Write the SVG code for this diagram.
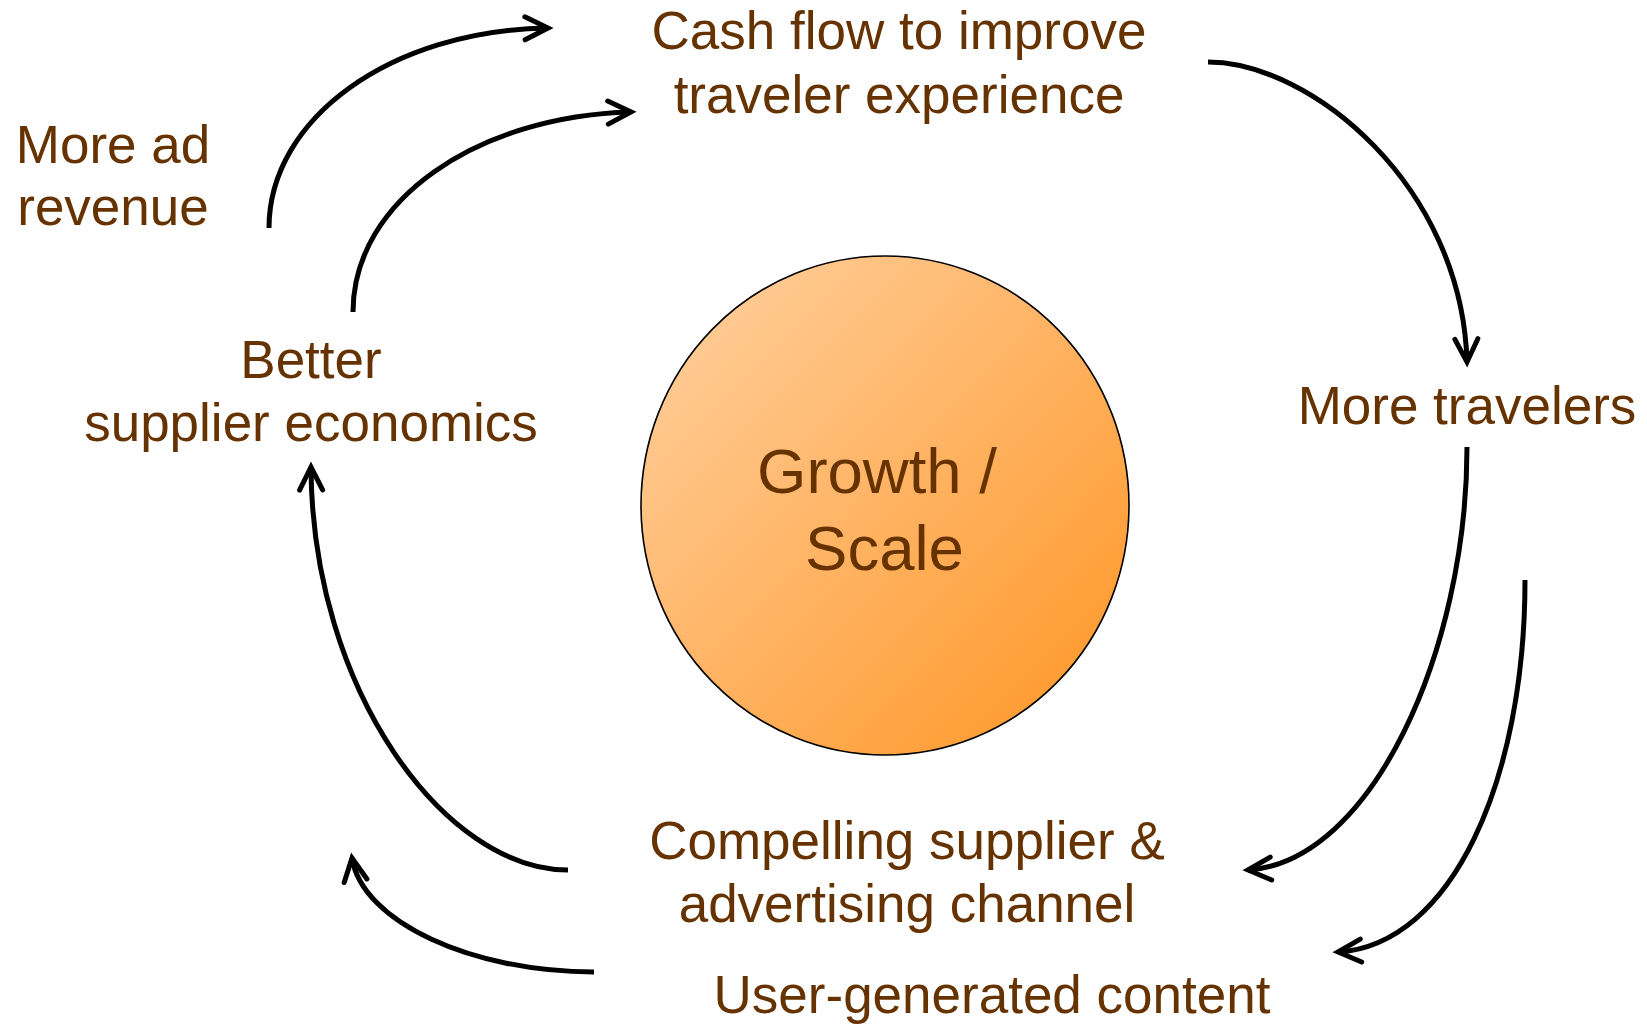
<svg xmlns="http://www.w3.org/2000/svg" width="1647" height="1024" viewBox="0 0 1647 1024">
  <style>
    .lbl { font-family: "Liberation Sans", Arial, sans-serif; font-size: 53px; fill: #663300; text-anchor: middle; }
    .hub { font-family: "Liberation Sans", Arial, sans-serif; font-size: 63.5px; fill: #663300; text-anchor: middle; }
    .flow { fill: none; stroke: #000; stroke-width: 5; marker-end: url(#chevron); }
  </style>
  <defs>
    <linearGradient id="hubFill" x1="0" y1="0" x2="1" y2="1">
      <stop offset="0" stop-color="#FFD2A3"/>
      <stop offset="1" stop-color="#FF9422"/>
    </linearGradient>
    <marker id="chevron" markerUnits="userSpaceOnUse" orient="auto" refX="0" refY="0" markerWidth="30" markerHeight="30" overflow="visible">
      <path d="M-23,-11.5 L0,0 L-23,11.5" fill="none" stroke="#000" stroke-width="5" stroke-linecap="round" stroke-linejoin="miter"/>
    </marker>
  </defs>

  <!-- central hub -->
  <g id="hub">
    <ellipse cx="885" cy="505.5" rx="244" ry="249.5" fill="url(#hubFill)" stroke="#000" stroke-width="1.6"/>
    <text class="hub" x="877" y="493">Growth /</text>
    <text class="hub" x="884.5" y="569.5">Scale</text>
  </g>

  <g id="cash-flow">
    <text class="lbl" x="899" y="49">Cash flow to improve</text>
    <text class="lbl" x="899" y="113">traveler experience</text>
  </g>

  <g id="more-travelers">
    <text class="lbl" x="1467" y="424">More travelers</text>
  </g>

  <g id="compelling-channel">
    <text class="lbl" x="907" y="859">Compelling supplier &amp;</text>
    <text class="lbl" x="907" y="922">advertising channel</text>
  </g>

  <g id="user-content">
    <text class="lbl" x="992" y="1013">User-generated content</text>
  </g>

  <g id="supplier-economics">
    <text class="lbl" x="311" y="378">Better</text>
    <text class="lbl" x="311" y="441">supplier economics</text>
  </g>

  <g id="ad-revenue">
    <text class="lbl" x="113" y="163">More ad</text>
    <text class="lbl" x="113" y="225">revenue</text>
  </g>

  <!-- connectors -->
  <g id="connectors">
    <path class="flow" d="M269,228 C269,118 392,30 548,28"/>
    <path class="flow" d="M353,312 C353,200 478,116 631,112"/>
    <path class="flow" d="M1208,62 C1310,62 1462,185 1467,362"/>
    <path class="flow" d="M1467,447 C1467,650 1372,862 1248,870"/>
    <path class="flow" d="M1525,580 C1525,780 1452,945 1338,952"/>
    <path class="flow" d="M568,870 C445,870 312,690 311,467"/>
    <path class="flow" d="M594,972 C472,972 362,922 352,858"/>
  </g>
</svg>
